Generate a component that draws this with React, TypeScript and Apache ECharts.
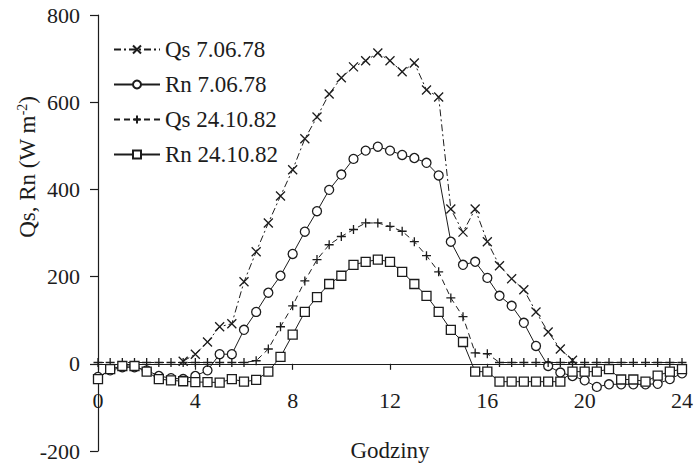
import React, { useEffect, useRef } from "react";
import * as echarts from "echarts";

// half-hour steps 0..24 h
const hours: number[] = Array.from({ length: 49 }, (_, i) => i / 2);

const seriesNames = ["Qs 7.06.78", "Rn 7.06.78", "Qs 24.10.82", "Rn 24.10.82"];

const qs78: (number | null)[] = [
  null, null, null, null, null, null, null, 6, 22, 50, 85, 92, 188, 257, 323, 385, 445, 516, 566, 619,
  656, 681, 695, 713, 695, 670, 690, 628, 612, 355, 302, 355, 280, 225, 195, 170, 119, 73, 34, 8,
  null, null, null, null, null, null, null, null, null,
];

const rn78: number[] = [
  -30, -15, -8, -8, -15, -28, -33, -35, -28, -15, 22, 22, 78, 119, 163, 202, 252, 303, 350, 399,
  434, 470, 489, 498, 489, 479, 472, 461, 432, 280, 227, 234, 197, 156, 133, 94, 41, -5, -20, -28,
  -38, -53, -47, -47, -47, -47, -46, -35, -22,
];

const qs82: number[] = [
  3, 3, 3, 3, 3, 3, 3, 3, 3, 3, 3, 3, 3, 7, 34, 85, 133, 190, 239, 273,
  292, 308, 323, 323, 315, 304, 280, 248, 211, 151, 108, 25, 23, 3, 3, 3, 3, 3, 3, 3,
  3, 3, 3, 3, 3, 3, 3, 3, 3,
];

const rn82: number[] = [
  -35, -12, -5, -5, -18, -35, -38, -40, -42, -42, -43, -35, -41, -37, -18, 16, 67, 119, 153, 183,
  202, 227, 234, 239, 234, 211, 183, 156, 119, 78, 50, -18, -18, -41, -41, -41, -41, -41, -41, -18,
  -18, -18, -12, -36, -36, -41, -27, -18, -12,
];

const FONT = "Liberation Serif";
const INK = "#1c1c1c";

const GRID_TOP = 15;
const GRID_BOTTOM = 15;
const CHART_H = 466;
const Y_MIN = -200;
const Y_MAX = 800;

export default function App() {
  const ref = useRef<HTMLDivElement>(null);

  useEffect(() => {
    const chart = echarts.init(ref.current!, undefined, { renderer: "svg" });
    const pair = (vals: (number | null)[]) => hours.map((h, i) => [h, vals[i]]);
    const mk = (
      name: string,
      vals: (number | null)[],
      symbol: string,
      lineType: any,
      fill: string,
      size: number
    ) => ({
      name,
      type: "line",
      data: pair(vals),
      symbol,
      symbolSize: size,
      showSymbol: true,
      showAllSymbol: true,
      connectNulls: false,
      lineStyle: { color: INK, width: 1, type: lineType },
      itemStyle: { color: fill, borderColor: INK, borderWidth: 1.3 },
      emphasis: { disabled: true },
    });

    // move the x axis (line, ticks, labels, name) up to the zero level
    const plotH = CHART_H - GRID_TOP - GRID_BOTTOM;
    const zeroOffset = -(plotH * (0 - Y_MIN)) / (Y_MAX - Y_MIN);

    chart.setOption({
      animation: false,
      backgroundColor: "#ffffff",
      grid: {
        left: 98,
        right: 13,
        top: GRID_TOP,
        bottom: GRID_BOTTOM,
        containLabel: false,
        outerBoundsMode: "none",
      },
      legend: {
        orient: "vertical",
        left: 108,
        top: 33,
        itemWidth: 46,
        itemHeight: 10,
        itemGap: 12,
        selectedMode: false,
        data: seriesNames,
        textStyle: { fontFamily: FONT, fontSize: 23, color: INK, padding: [0, 0, 0, 0] },
      },
      xAxis: {
        type: "value",
        min: 0,
        max: 24,
        interval: 4,
        offset: zeroOffset,
        name: "Godziny",
        nameLocation: "middle",
        nameGap: 75,
        nameTextStyle: { fontFamily: FONT, fontSize: 23, color: INK },
        axisLine: { onZero: false, lineStyle: { color: INK, width: 1.2 } },
        axisTick: { show: true, length: 6, lineStyle: { color: INK, width: 1.2 } },
        axisLabel: { margin: 26, fontFamily: FONT, fontSize: 22, color: INK },
        splitLine: { show: false },
      },
      yAxis: {
        type: "value",
        min: Y_MIN,
        max: Y_MAX,
        interval: 200,
        axisLine: { show: true, onZero: false, lineStyle: { color: INK, width: 1.2 } },
        axisTick: { show: true, length: 8, lineStyle: { color: INK, width: 1.2 } },
        axisLabel: { margin: 18, fontFamily: FONT, fontSize: 22, color: INK },
        splitLine: { show: false },
      },
      graphic: [
        {
          type: "text",
          x: 27,
          y: 167,
          rotation: Math.PI / 2,
          style: {
            text: "{a|Qs, Rn (W m}{b|-2}{a|)}",
            align: "center",
            verticalAlign: "middle",
            fill: INK,
            rich: {
              a: { fontFamily: FONT, fontSize: 23, fill: INK },
              b: { fontFamily: FONT, fontSize: 14, fill: INK, verticalAlign: "top" },
            },
          },
        },
      ],
      series: [
        mk(seriesNames[0], qs78, "path://M0,0L10,10M10,0L0,10", [7, 3, 2, 3], "none", 9),
        mk(seriesNames[1], rn78, "circle", "solid", "#ffffff", 9),
        mk(seriesNames[2], qs82, "path://M5,0L5,10M0,5L10,5", [6, 4], "none", 9),
        mk(seriesNames[3], rn82, "rect", "solid", "#ffffff", 9),
      ],
    });

    return () => chart.dispose();
  }, []);

  return (
    <div
      ref={ref}
      style={{ position: "fixed", left: 0, top: 0, width: 695, height: 466, background: "#fff" }}
    />
  );
}
